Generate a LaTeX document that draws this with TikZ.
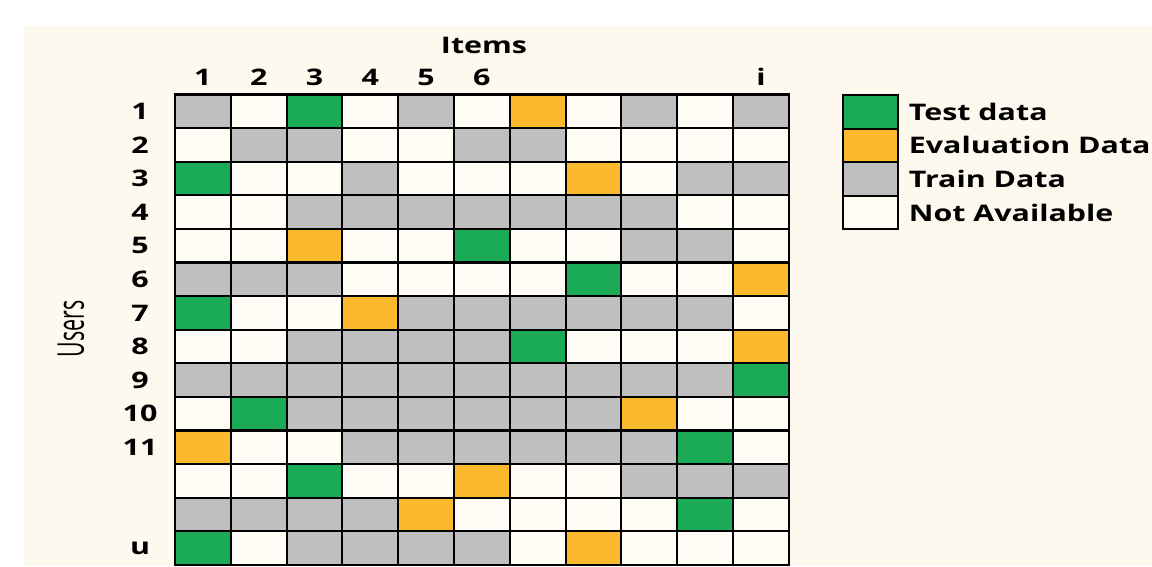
\documentclass[tikz,border=0pt]{standalone}
\usepackage{fontspec}
\setmainfont{Open Sans}
\usetikzlibrary{positioning}

\definecolor{bgcream}{RGB}{254,249,238}
\definecolor{gr}{RGB}{27,170,85}
\definecolor{ye}{RGB}{251,186,46}
\definecolor{gy}{RGB}{191,191,191}
\definecolor{wh}{RGB}{255,253,246}

\begin{document}
\begin{tikzpicture}[
    x=0.02cm, y=-0.02cm,
    cell/.style={draw=black, line width=1.2pt, fill=#1, minimum width=1.116cm, minimum height=0.672cm, inner sep=0pt},
    lab/.style={font=\fontsize{13}{15}\selectfont\bfseries, inner sep=0pt, xscale=1.33},
    axis/.style={font=\fontsize{21}{24}\selectfont, inner sep=0pt, rotate=90, xscale=0.58}
]

% canvas
\useasboundingbox (0,0) rectangle (1152,566);
\fill[bgcream] (24,26) rectangle (1152,566);

% Matrix of ratings
\foreach \row [count=\r] in {
    {gy,wh,gr,wh,gy,wh,ye,wh,gy,wh,gy},
    {wh,gy,gy,wh,wh,gy,gy,wh,wh,wh,wh},
    {gr,wh,wh,gy,wh,wh,wh,ye,wh,gy,gy},
    {wh,wh,gy,gy,gy,gy,gy,gy,gy,wh,wh},
    {wh,wh,ye,wh,wh,gr,wh,wh,gy,gy,wh},
    {gy,gy,gy,wh,wh,wh,wh,gr,wh,wh,ye},
    {gr,wh,wh,ye,gy,gy,gy,gy,gy,gy,wh},
    {wh,wh,gy,gy,gy,gy,gr,wh,wh,wh,ye},
    {gy,gy,gy,gy,gy,gy,gy,gy,gy,gy,gr},
    {wh,gr,gy,gy,gy,gy,gy,gy,ye,wh,wh},
    {ye,wh,wh,gy,gy,gy,gy,gy,gy,gr,wh},
    {wh,wh,gr,wh,wh,ye,wh,wh,gy,gy,gy},
    {gy,gy,gy,gy,ye,wh,wh,wh,wh,gr,wh},
    {gr,wh,gy,gy,gy,gy,wh,ye,wh,wh,wh}}
  \foreach \k [count=\c] in \row
    \node[cell=\k] (c-\r-\c) at ({175+(\c-0.5)*55.8}, {94.5+(\r-0.5)*33.6}) {};

% User labels
\foreach \t/\r in {1/1,2/2,3/3,4/4,5/5,6/6,7/7,8/8,9/9,10/10,11/11,u/14}
  \node[lab] (u-\r) at (140, {94.5+(\r-0.5)*33.6}) {\t};

% Item labels
\foreach \t/\c in {1/1,2/2,3/3,4/4,5/5,6/6,i/11}
  \node[lab] (i-\c) at ({175+(\c-0.5)*55.8}, 77) {\t};

% Axis titles
\node[lab] (items) at (484, 45) {Items};
\node[axis] (users) at (71, 329) {Users};

% Legend
\node[cell=gr] (key-test) at (870.5, 111.8) {};
\node[cell=ye] (key-eval) at (870.5, 145.4) {};
\node[cell=gy] (key-train) at (870.5, 179.0) {};
\node[cell=wh] (key-na) at (870.5, 212.6) {};
\node[lab, right=0.18cm of key-test] {Test data};
\node[lab, right=0.18cm of key-eval] {Evaluation Data};
\node[lab, right=0.18cm of key-train] {Train Data};
\node[lab, right=0.18cm of key-na] {Not Available};

\end{tikzpicture}
\end{document}
